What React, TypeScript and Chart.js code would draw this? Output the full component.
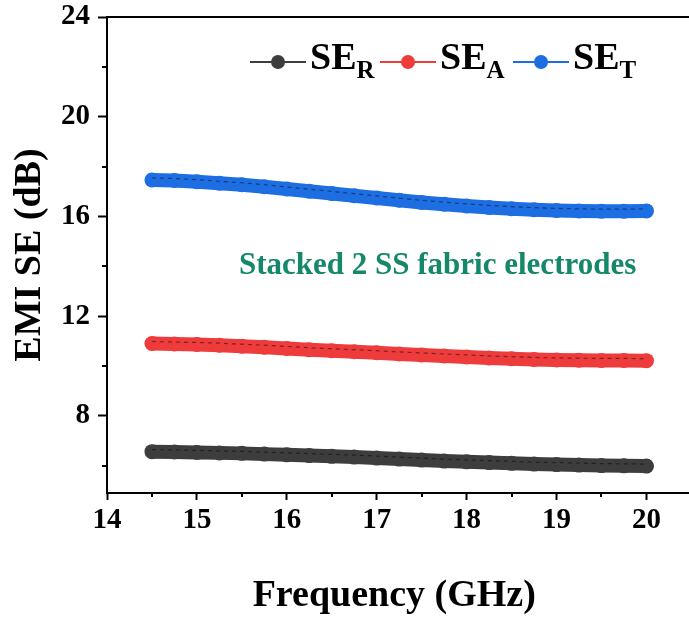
import { useEffect, useRef } from 'react';
import { Chart, registerables } from 'chart.js';

Chart.register(...registerables);

const FREQ = [14.5, 14.75, 15, 15.25, 15.5, 15.75, 16, 16.25, 16.5, 16.75, 17, 17.25, 17.5, 17.75, 18, 18.25, 18.5, 18.75, 19, 19.25, 19.5, 19.75, 20];
const SE_R = [6.56, 6.55, 6.53, 6.51, 6.49, 6.46, 6.43, 6.4, 6.37, 6.34, 6.3, 6.26, 6.22, 6.18, 6.15, 6.12, 6.09, 6.06, 6.04, 6.02, 6.0, 5.99, 5.98];
const SE_A = [10.9, 10.88, 10.86, 10.83, 10.79, 10.75, 10.7, 10.65, 10.61, 10.57, 10.53, 10.48, 10.44, 10.4, 10.36, 10.32, 10.29, 10.26, 10.24, 10.23, 10.22, 10.22, 10.21];
const SE_T = [17.46, 17.44, 17.39, 17.33, 17.27, 17.19, 17.1, 17.01, 16.92, 16.83, 16.74, 16.65, 16.56, 16.49, 16.42, 16.36, 16.31, 16.27, 16.24, 16.22, 16.21, 16.21, 16.22];

const X_TICKS = [14, 15, 16, 17, 18, 19, 20];
const X_MINOR = [14.5, 15.5, 16.5, 17.5, 18.5, 19.5];
const Y_TICKS = [8, 12, 16, 20, 24];
const Y_MINOR = [6, 10, 14, 18, 22];

const SERIES_MAIN = ['SE', 'SE', 'SE'];
const SERIES_SUB = ['R', 'A', 'T'];
const SERIES_COLORS = ['#3d3d3d', '#ee3b3b', '#1d6ee2'];
const NOTE = 'Stacked 2 SS fabric electrodes';
const NOTE_COLOR = '#15876a';
const X_TITLE = 'Frequency (GHz)';
const Y_TITLE = 'EMI SE (dB)';

const SERIF = "'Liberation Serif', 'Times New Roman', serif";

const decor = {
  id: 'decor',
  afterDraw(chart: any) {
    const { ctx, chartArea: ca, scales } = chart;
    const x = scales.x;
    const y = scales.y;
    const top = Math.round(ca.top);
    const bottom = Math.round(ca.bottom);
    ctx.save();
    ctx.strokeStyle = '#000';
    ctx.lineWidth = 2;
    ctx.beginPath();
    ctx.moveTo(ca.left - 1, top);
    ctx.lineTo(chart.width, top);
    ctx.moveTo(ca.right - 2, bottom);
    ctx.lineTo(chart.width, bottom);
    X_MINOR.forEach((v) => {
      const px = Math.round(x.getPixelForValue(v));
      ctx.moveTo(px, bottom);
      ctx.lineTo(px, bottom + 4);
    });
    Y_MINOR.forEach((v) => {
      const py = Math.round(y.getPixelForValue(v));
      ctx.moveTo(ca.left, py);
      ctx.lineTo(ca.left - 5, py);
    });
    ctx.stroke();

    // legend
    const starts = [250, 380, 513];
    const ly = ca.top + 45;
    SERIES_MAIN.forEach((m, i) => {
      const sx = starts[i];
      ctx.strokeStyle = SERIES_COLORS[i];
      ctx.lineWidth = 2;
      ctx.beginPath();
      ctx.moveTo(sx, ly);
      ctx.lineTo(sx + 56, ly);
      ctx.stroke();
      ctx.fillStyle = SERIES_COLORS[i];
      ctx.beginPath();
      ctx.arc(sx + 28, ly, 7, 0, Math.PI * 2);
      ctx.fill();
      ctx.fillStyle = '#000';
      ctx.textBaseline = 'alphabetic';
      ctx.textAlign = 'left';
      ctx.font = `bold 38px ${SERIF}`;
      const tx = sx + 60;
      ctx.fillText(m, tx, ly + 7);
      const w = ctx.measureText(m).width;
      ctx.font = `bold 25px ${SERIF}`;
      ctx.fillText(SERIES_SUB[i], tx + w, ly + 16);
    });

    // note
    ctx.fillStyle = NOTE_COLOR;
    ctx.font = `bold 31px ${SERIF}`;
    ctx.textAlign = 'left';
    ctx.textBaseline = 'alphabetic';
    ctx.fillText(NOTE, 239, 274);
    ctx.restore();
  },
};

export default function App() {
  const ref = useRef<HTMLCanvasElement>(null);
  useEffect(() => {
    if (!ref.current) return;
    const mainSets = [SE_R, SE_A, SE_T].map((arr, i) => ({
      label: SERIES_MAIN[i] + SERIES_SUB[i],
      data: FREQ.map((f, k) => ({ x: f, y: arr[k] })),
      borderColor: SERIES_COLORS[i],
      backgroundColor: SERIES_COLORS[i],
      borderWidth: 14,
      borderCapStyle: 'round' as const,
      borderJoinStyle: 'round' as const,
      pointRadius: 7.5,
      pointBorderWidth: 0,
      pointBackgroundColor: SERIES_COLORS[i],
      order: 2,
    }));
    const dashSets = [SE_R, SE_A, SE_T].map((arr, i) => ({
      label: SERIES_MAIN[i] + SERIES_SUB[i] + ' line',
      data: FREQ.map((f, k) => ({ x: f, y: arr[k] + 0.08 })),
      borderColor: 'rgba(0,0,0,0.45)',
      borderWidth: 1.2,
      borderDash: [4, 4],
      pointRadius: 0,
      order: 1,
    }));
    const zeroPad = (s: any) => {
      s.paddingTop = 0;
      s.paddingRight = 0;
      s.paddingLeft = 0;
      s.paddingBottom = 0;
    };
    const chart = new Chart(ref.current, {
      type: 'line',
      data: { datasets: [...mainSets, ...dashSets] as any },
      options: {
        animation: false,
        responsive: false,
        events: [],
        layout: { padding: { top: 17, right: 0, left: 0, bottom: 0 } },
        plugins: { legend: { display: false }, tooltip: { enabled: false } },
        scales: {
          x: {
            type: 'linear',
            min: 14,
            max: 20.39,
            afterFit: (s: any) => { s.height = 124; zeroPad(s); },
            afterBuildTicks: (s: any) => { s.ticks = X_TICKS.map((v) => ({ value: v })); },
            border: { display: true, color: '#000', width: 2 },
            grid: { drawOnChartArea: false, drawTicks: true, tickLength: 7, tickColor: '#000', tickWidth: 2 },
            ticks: { color: '#000', padding: 3, maxRotation: 0, font: { family: SERIF, size: 29, weight: 'bold' } },
            title: { display: true, text: X_TITLE, color: '#000', padding: { top: 0, bottom: -2 }, font: { family: SERIF, size: 38, weight: 'bold' } },
          },
          y: {
            type: 'linear',
            min: 4.9,
            max: 24,
            afterFit: (s: any) => { s.width = 107; zeroPad(s); },
            afterBuildTicks: (s: any) => { s.ticks = Y_TICKS.map((v) => ({ value: v })); },
            border: { display: true, color: '#000', width: 2 },
            grid: { drawOnChartArea: false, drawTicks: true, tickLength: 9, tickColor: '#000', tickWidth: 2 },
            ticks: { color: '#000', padding: 8, font: { family: SERIF, size: 29, weight: 'bold' } },
            title: { display: true, text: Y_TITLE, color: '#000', padding: { top: 7, bottom: 0 }, font: { family: SERIF, size: 38, weight: 'bold' } },
          },
        },
      },
      plugins: [decor],
    });
    return () => chart.destroy();
  }, []);
  return (
    <div style={{ position: 'fixed', left: 0, top: 0, width: 689, height: 617, background: '#fff' }}>
      <canvas ref={ref} width={689} height={617} />
    </div>
  );
}
